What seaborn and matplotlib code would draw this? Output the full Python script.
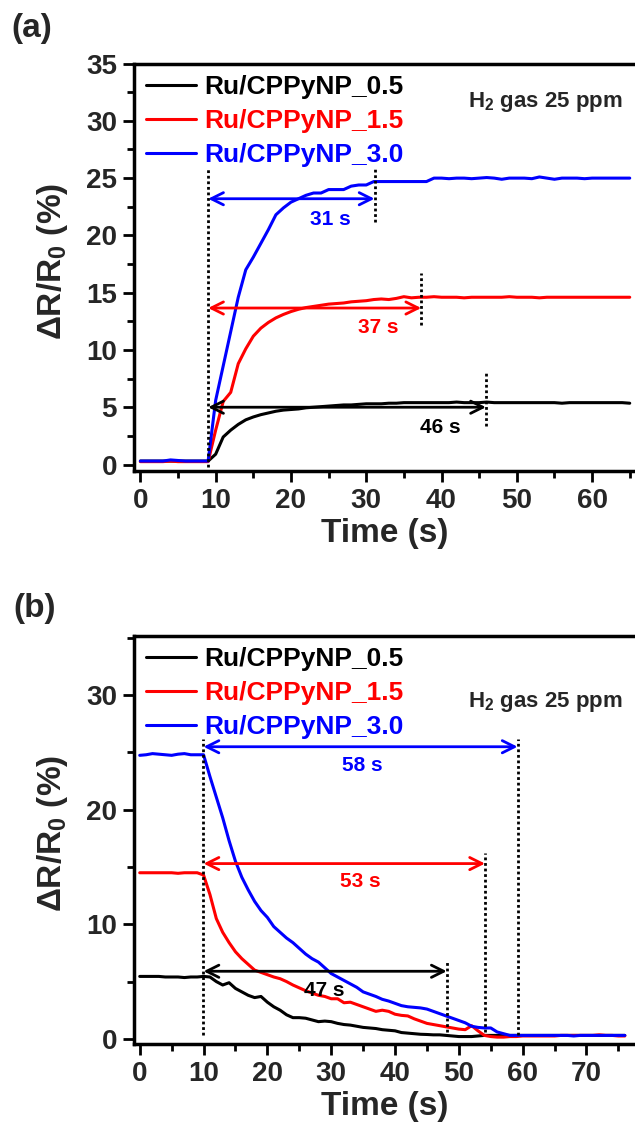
import numpy as np
import pandas as pd
import matplotlib
matplotlib.use("Agg")
import matplotlib.pyplot as plt
import seaborn as sns

# ---- data ----
labels = ['Ru/CPPyNP_0.5', 'Ru/CPPyNP_1.5', 'Ru/CPPyNP_3.0']
colors = ['black', '#ff0000', '#0000ff']

# (a) response, 1 s steps from 0 to 65 s
time_a = list(range(0, 66))
resp_05 = [0.3, 0.3, 0.3, 0.3, 0.3, 0.3, 0.3, 0.3, 0.3, 0.3,
           0.9, 2.4, 3.0, 3.5, 3.9, 4.15, 4.35, 4.5, 4.65, 4.75,
           4.8, 4.85, 4.95, 5.0, 5.05, 5.1, 5.15, 5.2, 5.2, 5.25,
           5.3, 5.3, 5.3, 5.35, 5.35, 5.4, 5.4, 5.4, 5.4, 5.4,
           5.4, 5.4, 5.45, 5.4, 5.4, 5.4, 5.45, 5.4, 5.4, 5.4,
           5.4, 5.4, 5.4, 5.4, 5.4, 5.4, 5.35, 5.4, 5.4, 5.4,
           5.4, 5.4, 5.4, 5.4, 5.4, 5.35]
resp_15 = [0.25, 0.25, 0.25, 0.25, 0.3, 0.25, 0.25, 0.25, 0.25, 0.25,
           3.0, 5.5, 6.3, 8.8, 10.1, 11.2, 11.9, 12.4, 12.8, 13.1,
           13.35, 13.55, 13.7, 13.8, 13.9, 14.0, 14.05, 14.1, 14.2, 14.25,
           14.3, 14.4, 14.45, 14.4, 14.5, 14.65, 14.55, 14.6, 14.6, 14.65,
           14.6, 14.6, 14.6, 14.55, 14.6, 14.6, 14.6, 14.6, 14.6, 14.65,
           14.6, 14.6, 14.6, 14.55, 14.6, 14.6, 14.6, 14.6, 14.6, 14.6,
           14.6, 14.6, 14.6, 14.6, 14.6, 14.6]
resp_30 = [0.3, 0.3, 0.3, 0.3, 0.4, 0.35, 0.3, 0.3, 0.3, 0.3,
           5.6, 8.6, 11.6, 14.6, 17.0, 18.1, 19.3, 20.5, 21.8, 22.4,
           22.9, 23.2, 23.5, 23.7, 23.7, 24.0, 24.0, 24.0, 24.3, 24.4,
           24.4, 24.7, 24.7, 24.7, 24.7, 24.7, 24.7, 24.7, 24.7, 25.0,
           25.0, 24.95, 25.0, 25.0, 24.95, 25.0, 25.05, 25.0, 24.9, 25.0,
           25.0, 25.0, 24.95, 25.1, 25.0, 24.9, 25.0, 25.0, 25.0, 24.95,
           25.0, 25.0, 25.0, 25.0, 25.0, 25.0]

# (b) recovery, 1 s steps from 0 to 76 s
time_b = list(range(0, 77))
rec_05 = [5.45, 5.45, 5.45, 5.45, 5.4, 5.4, 5.4, 5.35, 5.4, 5.4,
          5.45, 5.4, 5.0, 4.7, 4.9, 4.4, 4.1, 3.8, 3.6, 3.7,
          3.2, 2.8, 2.5, 2.1, 1.85, 1.85, 1.8, 1.65, 1.5, 1.55,
          1.5, 1.35, 1.25, 1.2, 1.1, 1.0, 0.95, 0.9, 0.8, 0.75,
          0.7, 0.55, 0.5, 0.45, 0.4, 0.38, 0.35, 0.35, 0.3, 0.25,
          0.2, 0.2, 0.2, 0.25, 0.3, 0.3, 0.3, 0.3, 0.3, 0.3,
          0.3, 0.3, 0.3, 0.3, 0.3, 0.3, 0.3, 0.3, 0.3, 0.3,
          0.3, 0.3, 0.3, 0.3, 0.3, 0.3, 0.3]
rec_15 = [14.5, 14.5, 14.5, 14.5, 14.5, 14.5, 14.45, 14.5, 14.5, 14.5,
          14.3, 12.6, 10.5, 9.3, 8.4, 7.6, 7.0, 6.5, 6.0, 5.8,
          5.6, 5.4, 5.25, 5.0, 4.7, 4.45, 4.2, 4.0, 3.8, 3.7,
          3.5, 3.5, 3.15, 3.2, 3.0, 2.8, 2.6, 2.4, 2.5, 2.4,
          2.15, 2.05, 2.0, 1.75, 1.55, 1.35, 1.25, 1.15, 1.05, 0.95,
          0.85, 0.8, 1.15, 0.7, 0.3, 0.2, 0.15, 0.15, 0.2, 0.2,
          0.25, 0.25, 0.25, 0.25, 0.25, 0.25, 0.3, 0.3, 0.3, 0.3,
          0.3, 0.3, 0.35, 0.3, 0.3, 0.25, 0.25]
rec_30 = [24.75, 24.8, 24.9, 24.85, 24.8, 24.75, 24.85, 24.9, 24.8, 24.8,
          24.8, 22.9, 21.1, 19.3, 17.3, 15.5, 14.1, 13.0, 12.0, 11.2,
          10.6, 9.8, 9.3, 8.8, 8.4, 7.9, 7.4, 7.0, 6.7, 6.2,
          5.7, 5.4, 5.1, 4.8, 4.5, 4.1, 3.9, 3.7, 3.45, 3.3,
          3.1, 2.9, 2.8, 2.75, 2.7, 2.6, 2.4, 2.2, 2.0, 1.8,
          1.6, 1.4, 1.1, 1.0, 0.95, 0.95, 0.6, 0.45, 0.3, 0.3,
          0.3, 0.3, 0.3, 0.3, 0.3, 0.3, 0.3, 0.3, 0.25, 0.3,
          0.3, 0.3, 0.3, 0.3, 0.3, 0.3, 0.3]

# annotation arrows: (start, end, y, text, text_x, text_y, dotted line at end: y0, y1)
arrows_a = [
    (9.0, 31.1, 23.2, '31 s', 25.2, 21.4, 21.2, 25.9),
    (9.0, 37.3, 13.66, '37 s', 31.6, 12.0, 12.2, 16.7),
    (9.0, 45.9, 5.0, '46 s', 39.9, 3.25, 3.4, 8.0),
]
start_line_a = (9.0, -0.2, 25.9)
arrows_b = [
    (10.0, 59.2, 25.5, '58 s', 34.9, 23.9, 0.3, 26.2),
    (10.0, 54.1, 15.3, '53 s', 34.5, 13.7, 0.6, 16.2),
    (10.0, 48.1, 5.9, '47 s', 28.9, 4.25, 0.6, 6.7),
]
start_line_b = (9.85, 0.3, 26.2)

df_a = pd.DataFrame({
    'Time': time_a * 3,
    'Value': resp_05 + resp_15 + resp_30,
    'Sample': [labels[0]] * len(time_a) + [labels[1]] * len(time_a) + [labels[2]] * len(time_a),
})
df_b = pd.DataFrame({
    'Time': time_b * 3,
    'Value': rec_05 + rec_15 + rec_30,
    'Sample': [labels[0]] * len(time_b) + [labels[1]] * len(time_b) + [labels[2]] * len(time_b),
})

# ---- style ----
sns.set_theme(style='ticks')
plt.rcParams['font.family'] = ['Liberation Sans', 'DejaVu Sans']
plt.rcParams['font.weight'] = 'bold'
plt.rcParams['mathtext.fontset'] = 'custom'
plt.rcParams['mathtext.rm'] = 'Liberation Sans:bold'
plt.rcParams['mathtext.it'] = 'Liberation Sans:bold'
plt.rcParams['mathtext.bf'] = 'Liberation Sans:bold'

fig = plt.figure(figsize=(6.35, 11.25), dpi=100)
ax_a = fig.add_axes([0.2104, 0.581, 0.7896, 0.3625])
ax_b = fig.add_axes([0.2104, 0.072, 0.7896, 0.363])

palette = dict(zip(labels, colors))
dots = (0, (1, 1))


def style_axes(ax, xlim, ylim, xmaj, ymaj, xmin, ymin, gas_y):
    ax.set_xlim(*xlim)
    ax.set_ylim(*ylim)
    ax.set_xticks(np.arange(0, xlim[1], xmaj))
    ax.set_xticks(np.arange(0, xlim[1], xmin), minor=True)
    ax.set_yticks(np.arange(0, ylim[1] + 0.01, ymaj))
    ax.set_yticks(np.arange(0, ylim[1] + 0.01, ymin), minor=True)
    ax.tick_params(which='major', direction='out', length=8, width=2,
                   labelsize=20, pad=4, color='black')
    ax.tick_params(which='minor', direction='out', length=5, width=2, color='black')
    for side in ['left', 'bottom', 'top']:
        ax.spines[side].set_linewidth(2.5)
        ax.spines[side].set_color('black')
    ax.spines['right'].set_visible(False)
    for lab in ax.get_xticklabels() + ax.get_yticklabels():
        lab.set_fontweight('bold')
    ax.set_xlabel('Time (s)', fontsize=24, fontweight='bold')
    ax.set_ylabel(r'ΔR/R$_0$ (%)', fontsize=24, fontweight='bold')
    ax.xaxis.set_label_coords(0.5, -0.115)
    ax.yaxis.set_label_coords(-0.127, 0.515)
    ax.text(0.975, gas_y, r'H$_2$ gas 25 ppm', transform=ax.transAxes,
            ha='right', va='center', fontsize=16, fontweight='bold')
    leg = ax.legend(loc='upper left', bbox_to_anchor=(0.025, 0.972), frameon=False,
                    fontsize=19, handlelength=1.9, handletextpad=0.3,
                    labelspacing=0.38, borderaxespad=0, borderpad=0,
                    labelcolor='linecolor')
    for t in leg.get_texts():
        t.set_fontweight('bold')
    for h in leg.get_lines():
        h.set_linewidth(2.2)


def draw_arrows(ax, arrows, start_line):
    x0, y0, y1 = start_line
    ax.plot([x0, x0], [y0, y1], ls=dots, color='black', lw=2)
    for (xs, xe, y, txt, tx, ty, dy0, dy1), c in zip(arrows, colors[::-1]):
        ax.annotate('', xy=(xe, y), xytext=(xs, y),
                    arrowprops=dict(arrowstyle='<->', color=c, lw=2,
                                    mutation_scale=22, shrinkA=0, shrinkB=0))
        ax.plot([xe, xe], [dy0, dy1], ls=dots, color='black', lw=2)
        ax.text(tx, ty, txt, color=c, fontsize=15, fontweight='bold',
                ha='center', va='center')


sns.lineplot(data=df_a, x='Time', y='Value', hue='Sample', palette=palette,
             linewidth=2.2, ax=ax_a)
draw_arrows(ax_a, arrows_a, start_line_a)
style_axes(ax_a, (-0.9, 65.7), (-0.6, 35), 10, 5, 5, 2.5, 0.905)

sns.lineplot(data=df_b, x='Time', y='Value', hue='Sample', palette=palette,
             linewidth=2.2, ax=ax_b)
draw_arrows(ax_b, arrows_b, start_line_b)
style_axes(ax_b, (-0.96, 77.6), (-0.45, 35.2), 10, 10, 5, 5, 0.838)

fig.text(32 / 635, 1 - 28 / 1125, '(a)', fontsize=24, fontweight='bold',
         ha='center', va='center')
fig.text(35 / 635, 1 - 608 / 1125, '(b)', fontsize=24, fontweight='bold',
         ha='center', va='center')

fig.savefig('out.png', dpi=100)
